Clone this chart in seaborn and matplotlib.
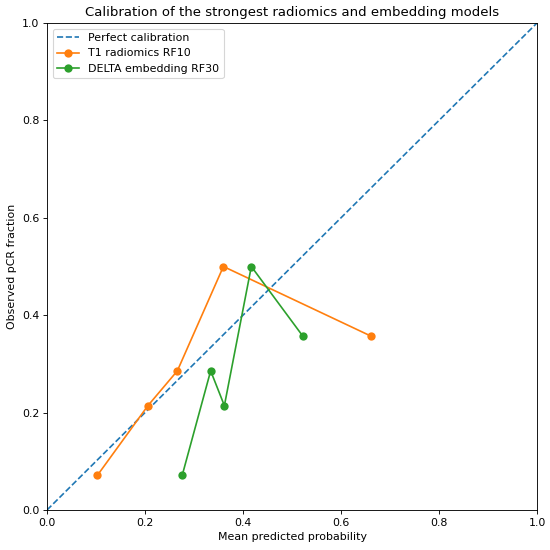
import matplotlib
matplotlib.use("Agg")
import matplotlib.pyplot as plt
import seaborn as sns
import pandas as pd

t1_pred = [0.103, 0.206, 0.266, 0.360, 0.661]
t1_obs = [1/14, 3/14, 4/14, 7/14, 5/14]
delta_pred = [0.276, 0.334, 0.362, 0.417, 0.522]
delta_obs = [1/14, 4/14, 3/14, 7/14, 5/14]
series_names = ["T1 radiomics RF10", "DELTA embedding RF30"]

fs = 6.9
fig, ax = plt.subplots(figsize=(fs, fs), dpi=550/fs)
fig.subplots_adjust(left=47/550, right=537/550, bottom=1-510/550, top=1-23/550)
ax.plot([0, 1], [0, 1], linestyle="--", color="#1f77b4", label="Perfect calibration")

df1 = pd.DataFrame({"x": t1_pred, "y": t1_obs})
df2 = pd.DataFrame({"x": delta_pred, "y": delta_obs})
sns.lineplot(data=df1, x="x", y="y", ax=ax, marker="o", markeredgewidth=0, markersize=7.5,
             color="#ff7f0e", sort=False, estimator=None, label=series_names[0])
sns.lineplot(data=df2, x="x", y="y", ax=ax, marker="o", markeredgewidth=0, markersize=7.5,
             color="#2ca02c", sort=False, estimator=None, label=series_names[1])

ax.set_xlim(0, 1)
ax.set_ylim(0, 1)
ax.set_xlabel("Mean predicted probability")
ax.set_ylabel("Observed pCR fraction")
ax.set_title("Calibration of the strongest radiomics and embedding models")
ax.legend(loc="upper left")
fig.savefig("out.png")
